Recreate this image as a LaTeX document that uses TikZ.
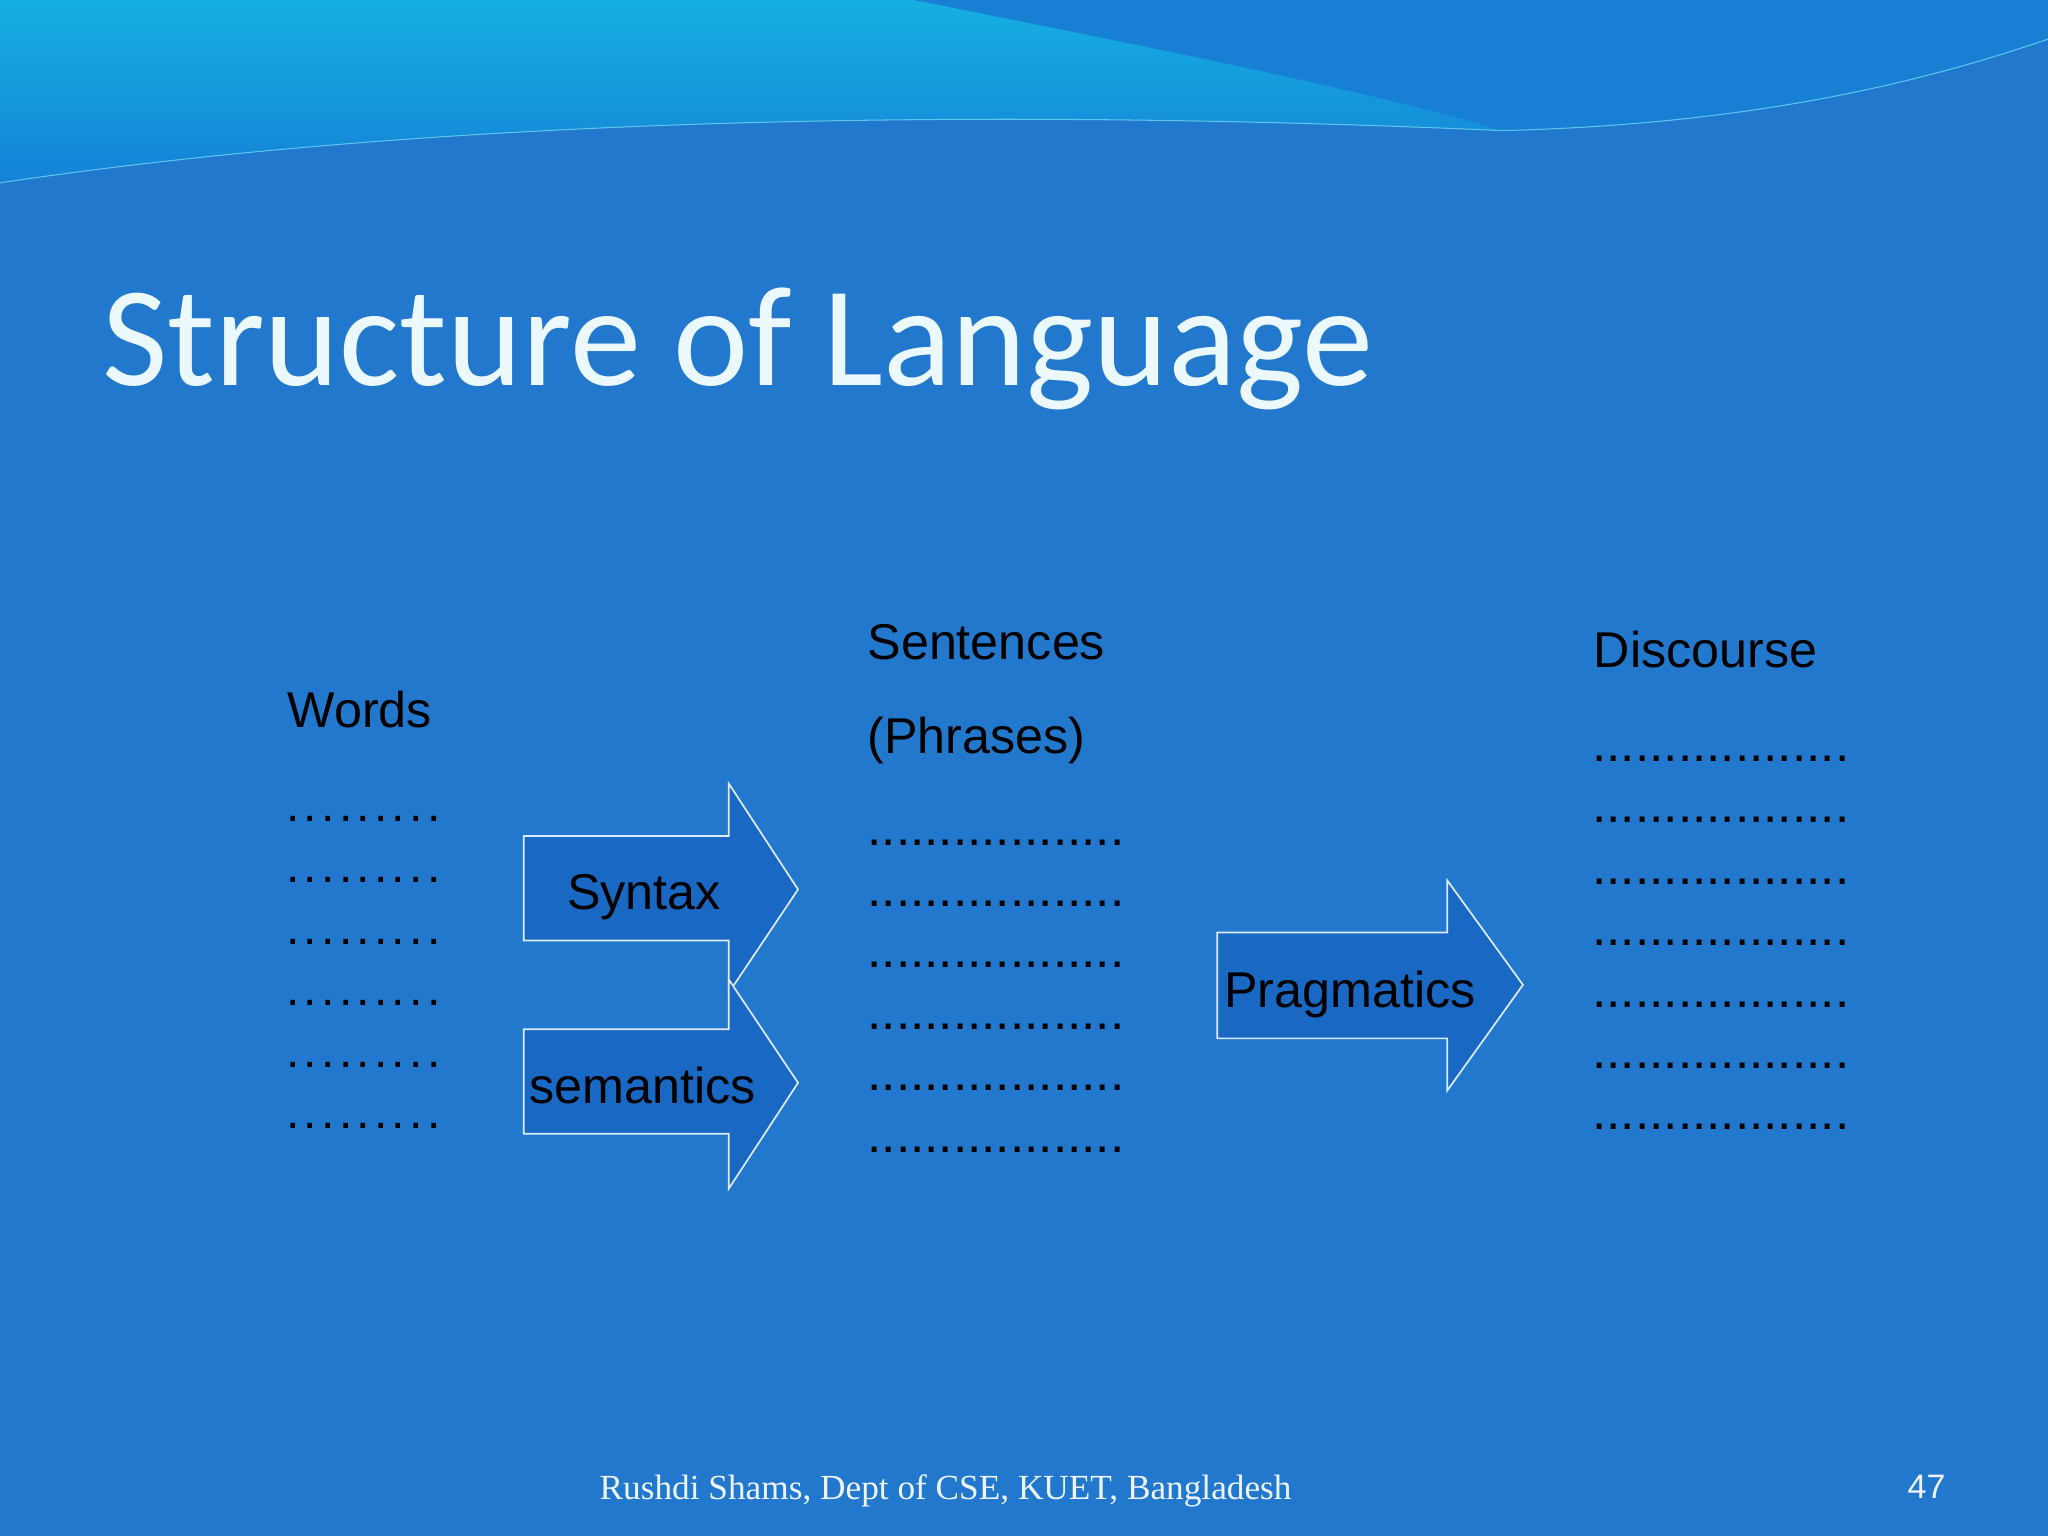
\documentclass[tikz,border=0pt]{standalone}
\usepackage{fontspec}
\setmainfont{Liberation Sans}
\newfontfamily\titlefont{Carlito}
\newfontfamily\footfont{Liberation Serif}
\definecolor{bg}{RGB}{34,120,205}
\definecolor{arrowfill}{RGB}{24,104,196}
\definecolor{cyantop}{RGB}{22,175,225}
\definecolor{midblue}{RGB}{20,130,215}
\definecolor{titlec}{RGB}{235,248,252}
\tikzset{
  lbl/.style={anchor=base west, inner sep=0pt, font=\fontsize{38.5}{40}\selectfont},
  dots/.style={anchor=base west, inner sep=0pt, font=\fontsize{39.3}{40}\selectfont},
  bigarrow/.style={fill=arrowfill, draw=white!85!bg, line width=1.3pt, line join=miter}
}
\begin{document}
\begin{tikzpicture}[x=1pt,y=-1pt]
\useasboundingbox (0,0) rectangle (1568,1176);
\fill[bg] (0,0) rectangle (1568,1176);
% top wave
\shade[top color=cyantop, bottom color=midblue] (0,0) -- (0,140) .. controls (300,95) and (700,80) .. (1150,100) .. controls (1350,95) and (1480,60) .. (1568,30) -- (1568,0) -- cycle;
\fill[midblue!80!bg] (700,0) .. controls (900,40) and (1050,70) .. (1150,100) .. controls (1350,95) and (1480,60) .. (1568,30) -- (1568,0) -- cycle;
\draw[cyantop!70!white, line width=0.8pt] (0,140) .. controls (300,95) and (700,80) .. (1150,100) .. controls (1350,95) and (1480,60) .. (1568,30);
% title
\node[anchor=base west, inner sep=0pt, text=titlec, font=\titlefont\fontsize{109}{110}\selectfont] (title) at (78,295) {Structure of Language};
% column headings
\node[lbl] (words) at (220,557) {Words};
\node[lbl] (sent) at (664,505) {Sentences};
\node[lbl] (phr) at (664,577) {(Phrases)};
\node[lbl] (disc) at (1220,511) {Discourse};
% dots
\foreach \i/\y in {1/629,2/676,3/723,4/770,5/817,6/864}
  \node[anchor=base west, inner sep=0pt, font=\fontsize{37}{40}\selectfont] (w\i) at (219,\y) {.\hspace{3.2pt}.\hspace{3.2pt}.\hspace{3.2pt}.\hspace{3.2pt}.\hspace{3.2pt}.\hspace{3.2pt}.\hspace{3.2pt}.\hspace{3.2pt}.};
\foreach \i/\y in {1/647,2/694,3/741,4/788,5/835,6/882}
  \node[dots] (s\i) at (664,\y) {..................};
\foreach \i/\y in {1/583,2/630,3/677,4/724,5/771,6/818,7/865}
  \node[dots] (d\i) at (1219,\y) {..................};
% arrows
\draw[bigarrow] (401,640) -- (558,640) -- (558,600) -- (611,681) -- (558,760) -- (558,720) -- (401,720) -- cycle;
\node[lbl] (syn) at (434,696) {Syntax};
\draw[bigarrow] (401,788) -- (558,788) -- (558,750) -- (611,829) -- (558,910) -- (558,868) -- (401,868) -- cycle;
\node[lbl] (sem) at (405,845) {semantics};
\draw[bigarrow] (932,714) -- (1108,714) -- (1108,674) -- (1166,754) -- (1108,835) -- (1108,795) -- (932,795) -- cycle;
\node[lbl] (prag) at (937,771) {Pragmatics};
% footer
\node[anchor=base, inner sep=0pt, text=white!92!bg, font=\footfont\fontsize{27}{30}\selectfont] (foot) at (724,1148) {Rushdi Shams, Dept of CSE, KUET, Bangladesh};
\node[anchor=base, inner sep=0pt, text=white!92!bg, font=\fontsize{26}{30}\selectfont] (pg) at (1475,1147) {47};
\end{tikzpicture}
\end{document}
